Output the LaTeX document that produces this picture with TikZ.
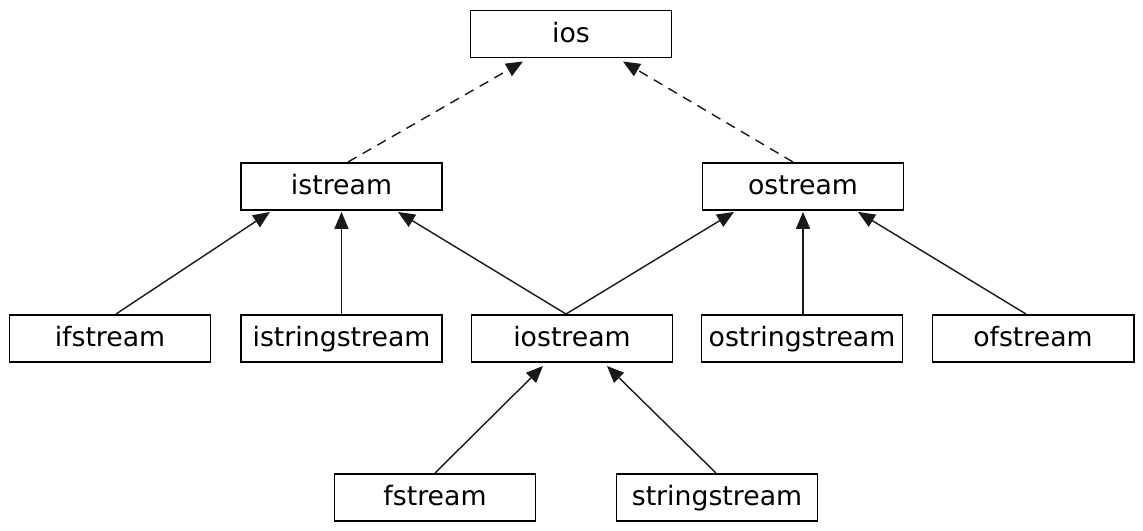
\documentclass[tikz,border=0pt]{standalone}
\usepackage{fontspec}
\setmainfont{DejaVu Sans}
\usetikzlibrary{arrows.meta}
\usetikzlibrary{calc}

\begin{document}
\begin{tikzpicture}[
        x=0.025cm, y=-0.025cm,
        cls/.style={
            rectangle, draw=black, line width=1.4pt, fill=white,
            minimum width=201*0.025cm, minimum height=47*0.025cm,
            inner sep=0pt, text=black,
            text height=15.6pt, text depth=3.6pt,
            font=\fontsize{19}{22}\selectfont,
        },
        inherit/.style={
            draw=black!90, line width=1pt,
            -{Triangle[length=12pt, width=10pt]},
        },
        virtual/.style={
            inherit, dash pattern=on 7pt off 5pt,
        },
    ]
    \useasboundingbox (0,0) rectangle (1143,531);

    % top
    \node (ios) at (571,34) [cls] {ios};

    % second row
    \node (istream) at (341.5,186.5) [cls] {istream};
    \node (ostream) at (803,186.5) [cls] {ostream};

    % third row
    \node (ifstream) at (110,338.5) [cls] {ifstream};
    \node (istringstream) at (341.5,338.5) [cls] {istringstream};
    \node (iostream) at (572,338.5) [cls] {iostream};
    \node (ostringstream) at (802,338.5) [cls] {ostringstream};
    \node (ofstream) at (1033,338.5) [cls] {ofstream};

    % bottom
    \node (fstream) at (435,497.5) [cls] {fstream};
    \node (stringstream) at (717,497.5) [cls] {stringstream};

    % virtual bases
    \draw[virtual] ($(istream.north)+(6.5,0)$) -- ($(ios.south)+(-48,3)$);
    \draw[virtual] ($(ostream.north)+(-10,0)$) -- ($(ios.south)+(52,3)$);

    % istream side
    \draw[inherit] ($(ifstream.north)+(6,0)$) -- ($(istream.south)+(-71.5,1)$);
    \draw[inherit] (istringstream.north) -- ($(istream.south)+(0,1)$);
    \draw[inherit] ($(iostream.north)+(-6,0)$) -- ($(istream.south)+(56.5,1)$);

    % ostream side
    \draw[inherit] ($(iostream.north)+(-6,0)$) -- ($(ostream.south)+(-69,1)$);
    \draw[inherit] ($(ostringstream.north)+(1,0)$) -- ($(ostream.south)+(0,1)$);
    \draw[inherit] ($(ofstream.north)+(-7,0)$) -- ($(ostream.south)+(55,1)$);

    % iostream children
    \draw[inherit] (fstream.north) -- ($(iostream.south)+(-29,3)$);
    \draw[inherit] ($(stringstream.north)+(-1,0)$) -- ($(iostream.south)+(35,3)$);
\end{tikzpicture}
\end{document}
